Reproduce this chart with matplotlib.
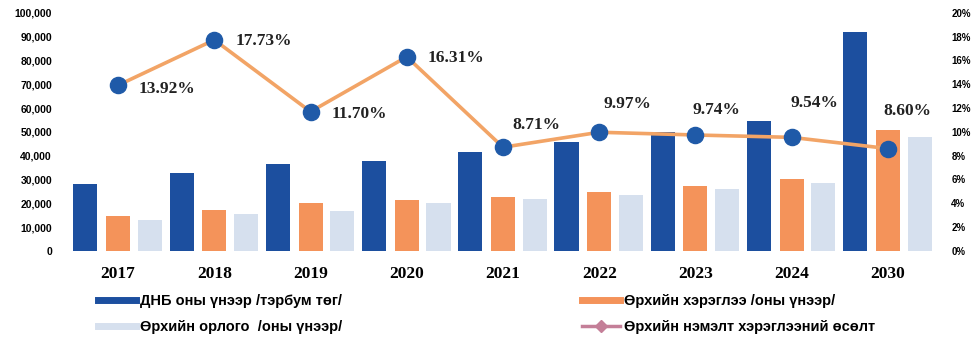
import numpy as np
import matplotlib.pyplot as plt

years = ['2017', '2018', '2019', '2020', '2021', '2022', '2023', '2024', '2030']
gdp = [28000, 32600, 36400, 37700, 41400, 45600, 49800, 54400, 92000]
consumption = [14600, 17200, 20000, 21300, 22600, 24700, 27200, 30100, 51000]
income = [13000, 15500, 16700, 20000, 21700, 23400, 25900, 28500, 47700]
growth = [13.92, 17.73, 11.70, 16.31, 8.71, 9.97, 9.74, 9.54, 8.60]

labels = ['ДНБ оны үнээр /тэрбум төг/', 'Өрхийн орлого  /оны үнээр/',
          'Өрхийн хэрэглээ /оны үнээр/', 'Өрхийн нэмэлт хэрэглээний өсөлт']

c_gdp = '#1c4f9f'
c_cons = '#f4935a'
c_inc = '#d6e0ee'
c_line = '#f2a466'
c_dot = '#1f5aa8'

sans = ['Liberation Sans', 'DejaVu Sans']
serif = ['Liberation Serif', 'DejaVu Serif']

fig = plt.figure(figsize=(9.8, 3.48), dpi=100)
ax = fig.add_axes([0.0714, 0.279, 0.8837, 0.684])
x = np.arange(len(years))
w = 0.25
ax.bar(x - 0.34, gdp, w, color=c_gdp)
ax.bar(x, consumption, w, color=c_cons)
ax.bar(x + 0.33, income, w, color=c_inc)

ax.set_xlim(-0.5, len(years) - 0.5)
ax.set_ylim(0, 100000)
ax.set_yticks(np.arange(0, 100001, 10000))
ax.set_yticklabels(['0'] + ['{:,}'.format(v) for v in range(10000, 100001, 10000)],
                   fontfamily=sans, fontweight='bold', fontsize=7.5)
ax.set_xticks(x)
ax.set_xticklabels(years, fontfamily=serif, fontweight='bold', fontsize=12.5)
ax.tick_params(length=0)
ax.tick_params(axis='y', pad=13)
ax.tick_params(axis='x', pad=11)
for s in ax.spines.values():
    s.set_visible(False)

ax2 = ax.twinx()
ax2.set_ylim(0, 20)
ax2.set_yticks(np.arange(0, 21, 2))
ax2.set_yticklabels(['{}%'.format(v) for v in range(0, 21, 2)],
                    fontfamily=sans, fontweight='bold', fontsize=7)
ax2.tick_params(length=0, pad=11)
for s in ax2.spines.values():
    s.set_visible(False)
ax2.plot(x, growth, color=c_line, lw=2.6, zorder=2)
ax2.scatter(x, growth, s=135, color=c_dot, zorder=3)

# label offsets (points) for each growth value
offsets = [(15, -3), (15, -1), (15, -2), (15, -1), (7, 16), (3, 20), (-2, 18), (-1, 25), (-3, 27)]
for xi, g, (dx, dy) in zip(x, growth, offsets):
    ax2.annotate('{:.2f}%'.format(g), (xi, g), xytext=(dx, dy), textcoords='offset points',
                 ha='left', va='center', fontfamily=serif, fontweight='bold',
                 fontsize=12.5, color='#222222')

line_handle = plt.Line2D([], [], color='#c47f98', lw=2.5, marker='D', markersize=6)
handles = [plt.Line2D([], [], color=c_gdp, lw=5), plt.Line2D([], [], color=c_inc, lw=5),
           plt.Line2D([], [], color=c_cons, lw=5), line_handle]
fig.legend(handles, labels, ncol=2, loc='upper left', bbox_to_anchor=(0.094, 0.172),
           frameon=False, handlelength=2.6, handletextpad=0.3, columnspacing=16.4,
           labelspacing=0.85, borderaxespad=0,
           prop={'family': sans, 'weight': 'bold', 'size': 10.5})

fig.savefig('out.png', dpi=100)
